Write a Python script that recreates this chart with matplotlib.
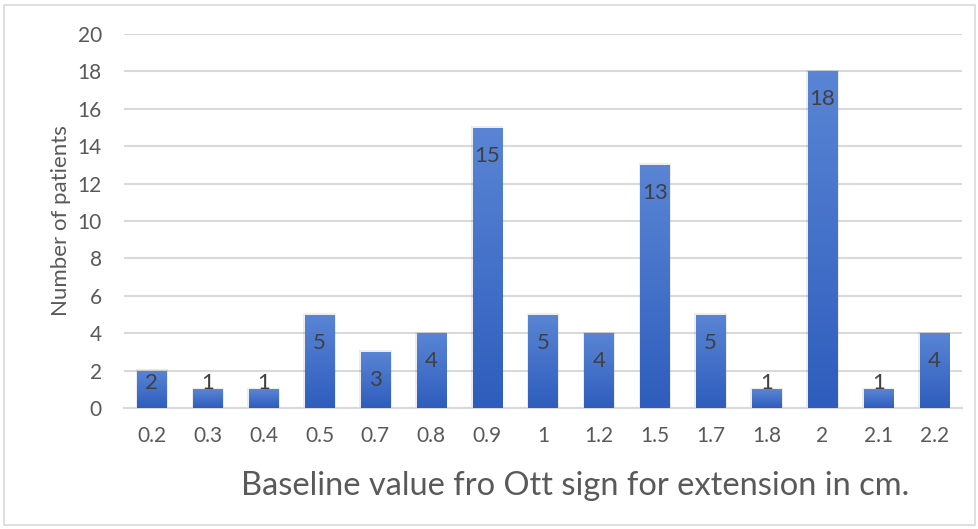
import numpy as np
import matplotlib.pyplot as plt
from matplotlib.colors import LinearSegmentedColormap
from matplotlib.patches import Rectangle

categories = ['0.2', '0.3', '0.4', '0.5', '0.7', '0.8', '0.9', '1', '1.2', '1.5', '1.7', '1.8', '2', '2.1', '2.2']
patients = [2, 1, 1, 5, 3, 4, 15, 5, 4, 13, 5, 1, 18, 1, 4]

plt.rcParams['font.family'] = ['Lato', 'DejaVu Sans']

fig = plt.figure(figsize=(9.79, 5.29), dpi=100)
ax = fig.add_axes([124 / 979, (529 - 408) / 529, (962 - 124) / 979, (408 - 34) / 529])

# outer chart border
fig.patches.append(Rectangle((4 / 979, 4 / 529), 971 / 979, 520 / 529, transform=fig.transFigure,
                             fill=False, edgecolor='#d9d9d9', lw=1.2))

grad = LinearSegmentedColormap.from_list('bar', ['#2e5dbd', '#5a85d5'])
x = np.arange(len(categories))
width = 0.52
for xi, v in zip(x, patients):
    # soft shadow
    ax.add_patch(Rectangle((xi - width / 2 - 0.03, 0), width + 0.06, v + 0.08,
                           facecolor='#000000', alpha=0.07, lw=0, zorder=2))
    bar = ax.bar(xi, v, width=width, color='none', zorder=3)[0]
    img = ax.imshow(np.linspace(0, 1, 100).reshape(-1, 1), cmap=grad, origin='lower',
                    extent=[xi - width / 2, xi + width / 2, 0, v], aspect='auto', zorder=3)
    img.set_clip_path(bar)
    ax.text(xi, max(v - 1.5, 1.35), str(v), ha='center', va='center',
            fontsize=16, color='#404040', zorder=4)

ax.set_xlim(-0.5, len(categories) - 0.5)
ax.set_ylim(0, 20)
ax.set_yticks(range(0, 21, 2))
ax.set_xticks(x)
ax.set_xticklabels(categories)
ax.grid(axis='y', color='#d9d9d9', lw=1.5, zorder=0)
ax.set_axisbelow(True)
for s in ['top', 'right', 'left']:
    ax.spines[s].set_visible(False)
ax.spines['bottom'].set_color('#d9d9d9')
ax.spines['bottom'].set_linewidth(1.5)
ax.tick_params(length=0, labelsize=15, labelcolor='#595959')
ax.tick_params(axis='y', pad=16)
ax.tick_params(axis='x', pad=13)
ax.set_ylabel('Number of patients', fontsize=16, color='#595959', labelpad=5)
ax.set_xlabel('Baseline value fro Ott sign for extension in cm.', fontsize=23.5, color='#595959')
ax.xaxis.set_label_coords(575 / 979, 34 / 529, transform=fig.transFigure)
ax.xaxis.label.set_va('baseline')

fig.savefig('out.png', dpi=100)
